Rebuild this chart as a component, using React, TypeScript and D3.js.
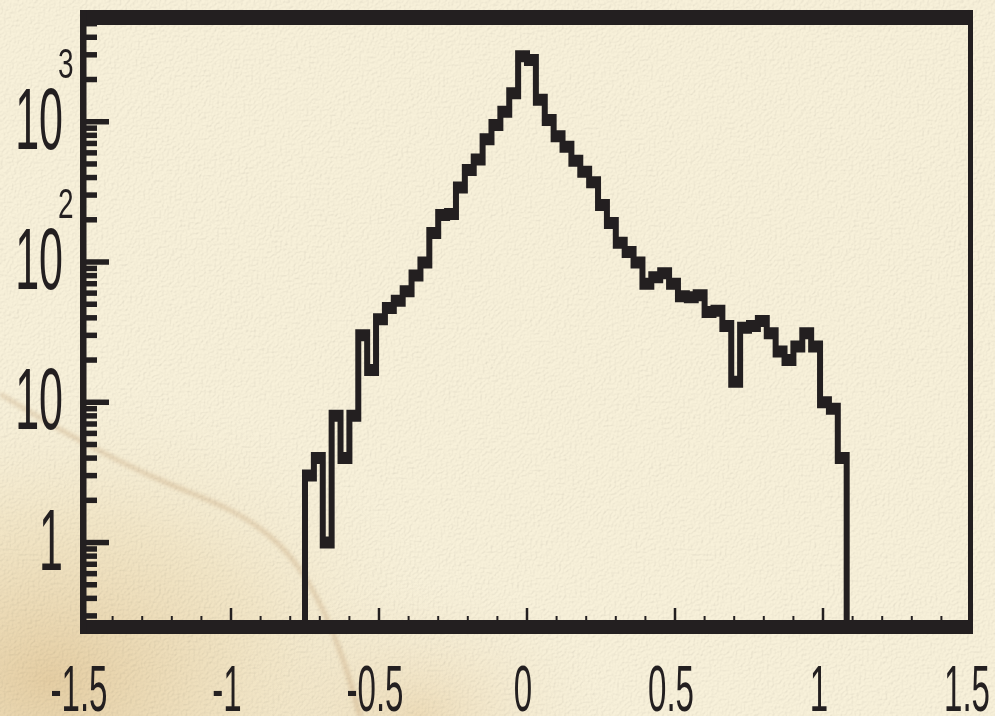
import React from "react";
import * as d3 from "d3";

// Histogram definition: 100 bins from -1.5 to 1.5, non-empty bins start at index 25
const xMin = -1.5;
const xMax = 1.5;
const nBins = 100;
const firstBin = 25;
const counts = [
  3, 4, 1, 8, 4, 8, 30, 17, 39, 47, 53, 62, 80, 99, 161, 216, 220, 340, 453, 539,
  749, 947, 1178, 1593, 2925, 2750, 1436, 1028, 787, 664, 527, 440, 371, 255, 190,
  137, 118, 99, 70, 78, 83, 70, 57, 56, 58, 44, 45, 35, 14, 34, 35, 38, 31, 23, 20,
  25, 31, 25, 10, 9, 4,
];
const yDomain = [0.25, 5580];
const xMajorTicks = [-1.5, -1, -0.5, 0, 0.5, 1, 1.5];
const xTickLabels = ["-1.5", "-1", "-0.5", "0", "0.5", "1", "1.5"];
const yMajorTicks = [1, 10, 100, 1000];

const W = 995;
const H = 716;
const F = { left: 83, right: 971, top: 17, bottom: 627 };
const INK = "#231f20";
const FONT = "'Liberation Sans', Arial, Helvetica, sans-serif";

export default function App() {
  const x = d3.scaleLinear().domain([xMin, xMax]).range([F.left, F.right]);
  const y = d3.scaleLog().domain(yDomain).range([F.bottom, F.top]);
  const bw = (xMax - xMin) / nBins;

  // step outline points (drawn in a half-height space, later scaled by 2 vertically)
  const pts: [number, number][] = [];
  const e0 = xMin + firstBin * bw;
  pts.push([x(e0), F.bottom / 2]);
  counts.forEach((c, i) => {
    pts.push([x(xMin + (firstBin + i) * bw), y(c) / 2]);
  });
  pts.push([x(xMin + (firstBin + counts.length) * bw), F.bottom / 2]);
  const line = d3.line().curve(d3.curveStepAfter);
  const histPath = line(pts) || "";

  // minor ticks
  const xMinor = d3.range(-15, 16).map((k) => k / 10).filter((v) => !xMajorTicks.some((m) => Math.abs(m - v) < 1e-9));
  const yMinor: number[] = [];
  for (let k = -1; k <= 3; k++) {
    for (let m = 2; m <= 9; m++) {
      const v = m * Math.pow(10, k);
      if (v >= yDomain[0] && v <= yDomain[1]) yMinor.push(v);
    }
  }

  const streak = d3.line().curve(d3.curveBasis)([
    [0, 394], [60, 430], [120, 462], [170, 485], [230, 508], [270, 534], [300, 566], [325, 612], [345, 662], [360, 716],
  ]) || "";

  return (
    <svg width={W} height={H} style={{ position: "fixed", left: 0, top: 0 }} xmlns="http://www.w3.org/2000/svg">
      <defs>
        <radialGradient id="stain" cx="0.05" cy="0.95" r="0.42">
          <stop offset="0" stopColor="#ddbf8c" stopOpacity="0.7" />
          <stop offset="0.55" stopColor="#e8d3a6" stopOpacity="0.35" />
          <stop offset="1" stopColor="#f3ebd4" stopOpacity="0" />
        </radialGradient>
        <radialGradient id="stain2" cx="0.42" cy="1.0" r="0.2">
          <stop offset="0" stopColor="#e4c999" stopOpacity="0.5" />
          <stop offset="1" stopColor="#f3ebd4" stopOpacity="0" />
        </radialGradient>
        <filter id="paper" x="0" y="0" width="100%" height="100%">
          <feTurbulence type="fractalNoise" baseFrequency="0.38" numOctaves="3" seed="7" result="t" />
          <feDiffuseLighting in="t" surfaceScale="1.6" lightingColor="#ffffff" result="l">
            <feDistantLight azimuth="225" elevation="60" />
          </feDiffuseLighting>
        </filter>
        <filter id="blur" x="-10%" y="-10%" width="120%" height="120%">
          <feGaussianBlur stdDeviation="2.2" />
        </filter>
      </defs>
      <rect x={0} y={0} width={W} height={H} fill="#f8f1da" />
      <rect x={0} y={0} width={W} height={H} fill="url(#stain)" />
      <rect x={0} y={0} width={W} height={H} fill="url(#stain2)" />
      <rect x={0} y={0} width={W} height={H} filter="url(#paper)" opacity={0.2} style={{ mixBlendMode: "multiply" }} />
      <path d={streak} fill="none" stroke="#a0703e" strokeWidth={3} opacity={0.35} filter="url(#blur)" />

      {/* histogram */}
      <g transform="scale(1,2)">
        <path d={histPath} fill="none" stroke={INK} strokeWidth={6} strokeLinejoin="miter" strokeLinecap="butt" />
      </g>

      {/* y ticks */}
      {yMajorTicks.map((v) => (
        <line key={"ym" + v} x1={F.left} x2={F.left + 26} y1={y(v)} y2={y(v)} stroke={INK} strokeWidth={5.5} />
      ))}
      {yMinor.map((v) => (
        <line key={"yn" + v} x1={F.left} x2={F.left + 14} y1={y(v)} y2={y(v)} stroke={INK} strokeWidth={5.5} />
      ))}
      {/* x ticks */}
      {xMajorTicks.map((v) => (
        <line key={"xm" + v} x1={x(v)} x2={x(v)} y1={F.bottom - 6} y2={F.bottom - 19} stroke={INK} strokeWidth={2.5} />
      ))}
      {xMinor.map((v) => (
        <line key={"xn" + v} x1={x(v)} x2={x(v)} y1={F.bottom - 6} y2={F.bottom - 11} stroke={INK} strokeWidth={2} />
      ))}

      {/* frame */}
      <rect x={F.left - 2} y={F.top - 7} width={F.right - F.left + 4} height={15} fill={INK} />
      <rect x={F.left - 2} y={F.bottom - 7} width={F.right - F.left + 4} height={14} fill={INK} />
      <rect x={F.left - 3} y={F.top - 7} width={6.5} height={F.bottom - F.top + 14} fill={INK} />
      <rect x={F.right - 3} y={F.top - 7} width={5} height={F.bottom - F.top + 14} fill={INK} />

      {/* x labels */}
      {xMajorTicks.map((v, i) => (
        <text
          key={"xl" + v}
          transform={`translate(${x(v) - 4},${711}) scale(0.92,1.8)`}
          fontFamily={FONT}
          fontSize={36}
          textAnchor="middle"
          fill={INK}
        >
          {xTickLabels[i]}
        </text>
      ))}

      {/* y labels */}
      {yMajorTicks.map((v) => {
        const e = Math.round(Math.log10(v));
        const base = e === 0 ? "1" : "10";
        return (
          <g key={"yl" + v}>
            <text
              transform={`translate(${63},${y(v) + 27}) scale(0.86,1.76)`}
              fontFamily={FONT}
              fontSize={50}
              textAnchor="end"
              fill={INK}
            >
              {base}
            </text>
            {e >= 2 && (
              <text
                transform={`translate(${58},${y(v) - 44}) scale(1,1.55)`}
                fontFamily={FONT}
                fontSize={28}
                textAnchor="start"
                fill={INK}
              >
                {String(e)}
              </text>
            )}
          </g>
        );
      })}
    </svg>
  );
}
